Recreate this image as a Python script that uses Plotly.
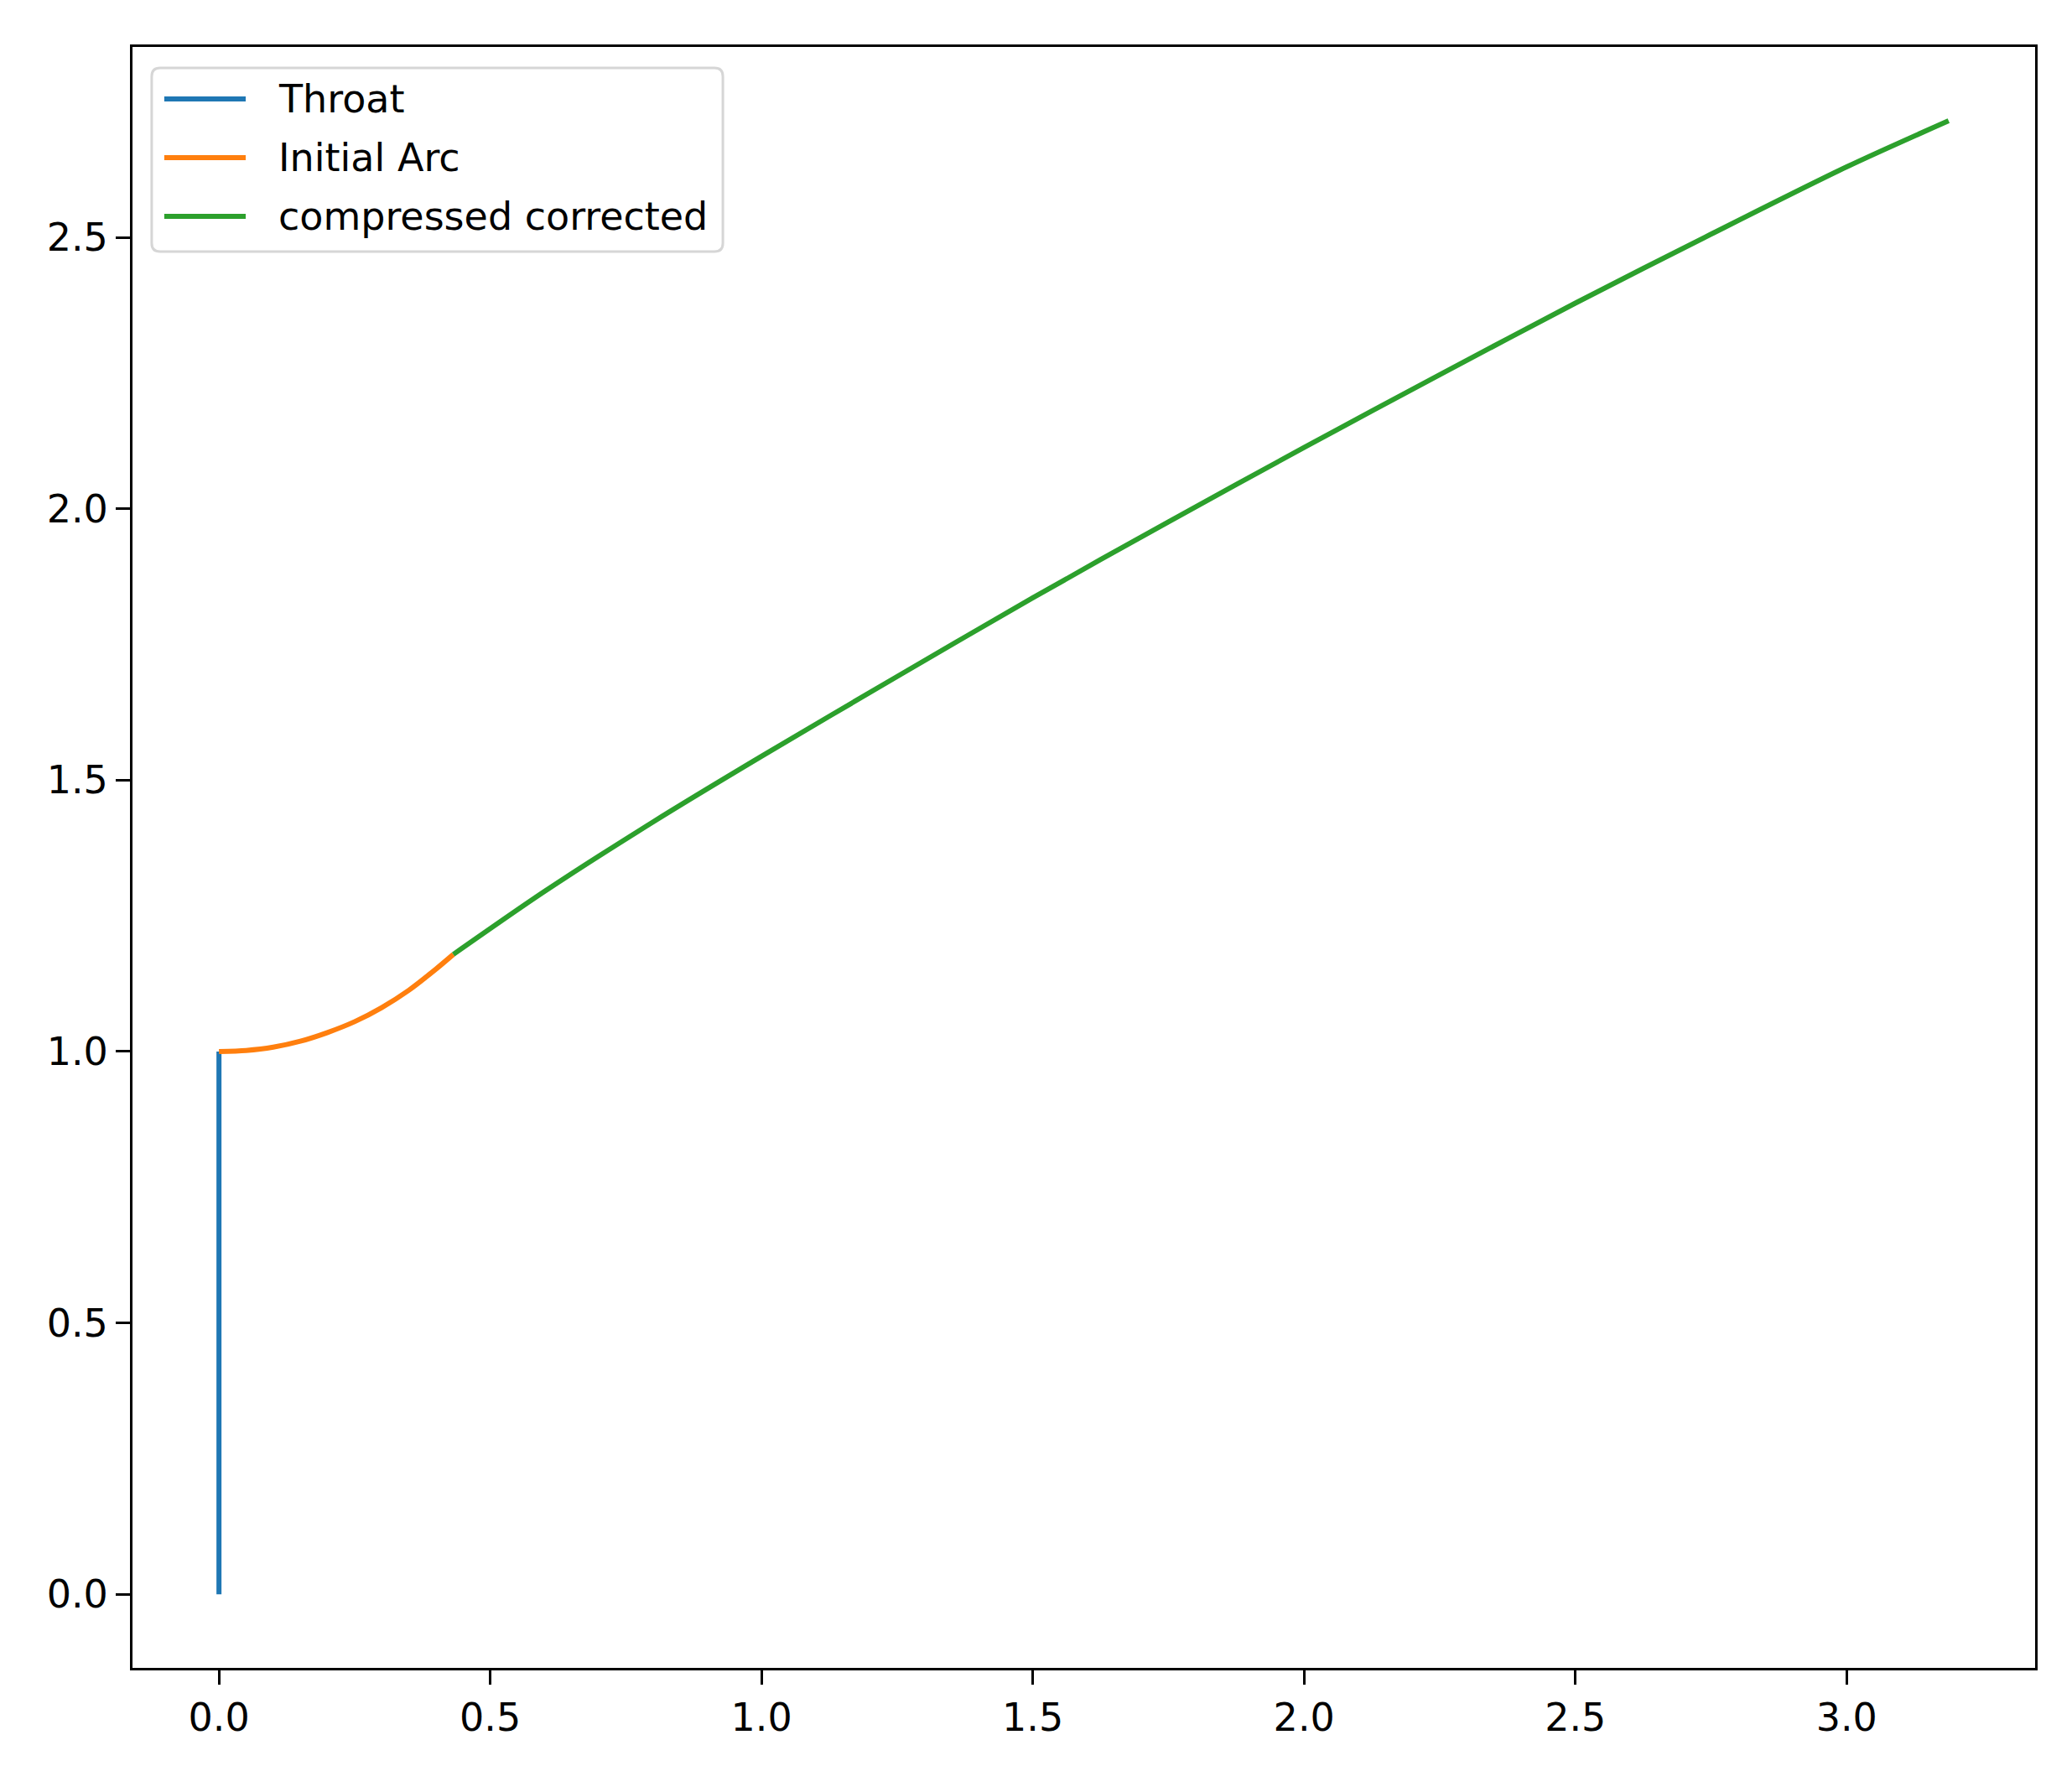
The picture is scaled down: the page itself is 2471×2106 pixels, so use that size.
import plotly.graph_objects as go

# Throat line
throat_x = [0.0, 0.0]
throat_y = [0.0, 1.0]

# Initial arc
arc_x = [0.0, 0.05, 0.10, 0.15, 0.20, 0.25, 0.30, 0.35, 0.40, 0.432]
arc_y = [1.000, 1.002, 1.008, 1.019, 1.035, 1.055, 1.081, 1.113, 1.152, 1.179]

# compressed corrected contour
comp_x = [0.432, 0.6, 0.8, 1.0, 1.25, 1.5, 1.75, 2.0, 2.25, 2.5, 2.75, 3.0, 3.188]
comp_y = [1.179, 1.295, 1.423, 1.544, 1.691, 1.836, 1.976, 2.113, 2.247, 2.379,
          2.506, 2.630, 2.715]

names = ['Throat', 'Initial Arc', 'compressed corrected']
colors = ['#1f77b4', '#ff7f0e', '#2ca02c']

x_ticks = [0.0, 0.5, 1.0, 1.5, 2.0, 2.5, 3.0]
y_ticks = [0.0, 0.5, 1.0, 1.5, 2.0, 2.5]

FONT = "DejaVu Sans"
FS = 46

fig = go.Figure()
series = [(throat_x, throat_y), (arc_x, arc_y), (comp_x, comp_y)]
for (xs, ys), nm, col in zip(series, names, colors):
    fig.add_trace(go.Scatter(x=xs, y=ys, mode='lines', name=nm, showlegend=False,
                             line=dict(color=col, width=6, shape='spline',
                                       smoothing=0.8)))

axis_style = dict(showline=True, linecolor='black', linewidth=3, mirror=True,
                  ticks='outside', ticklen=17, tickwidth=3, tickcolor='black',
                  showgrid=False, zeroline=False,
                  tickfont=dict(family=FONT, size=FS, color='black'))

fig.update_xaxes(range=[-0.1594, 3.3474], tickvals=x_ticks,
                 ticktext=[f'{v:.1f}' for v in x_ticks], **axis_style)
fig.update_yaxes(range=[-0.1357, 2.851], tickvals=y_ticks,
                 ticktext=[f'{v:.1f}' for v in y_ticks], **axis_style)

# legend box drawn like matplotlib's (rounded frame, long line samples)
x0, x1, y0, y1 = 0.0101, 0.3103, 0.8738, 0.9871
rx, ry = 0.0044, 0.0052
box = (f"M{x0 + rx},{y1} L{x1 - rx},{y1} Q{x1},{y1} {x1},{y1 - ry} "
       f"L{x1},{y0 + ry} Q{x1},{y0} {x1 - rx},{y0} "
       f"L{x0 + rx},{y0} Q{x0},{y0} {x0},{y0 + ry} "
       f"L{x0},{y1 - ry} Q{x0},{y1} {x0 + rx},{y1} Z")
fig.add_shape(type='path', path=box, xref='paper', yref='paper',
              fillcolor='rgba(255,255,255,0.8)', line=dict(color='#d6d6d6', width=3))
legend_rows = [0.9679, 0.9317, 0.8955]
for nm, col, yy in zip(names, colors, legend_rows):
    fig.add_shape(type='line', xref='paper', yref='paper',
                  x0=0.0167, x1=0.0595, y0=yy, y1=yy,
                  line=dict(color=col, width=6))
    fig.add_annotation(x=0.0758, y=yy, xref='paper', yref='paper', text=nm,
                       showarrow=False, xanchor='left', yanchor='middle',
                       font=dict(family=FONT, size=FS, color='black'))

fig.update_layout(
    width=2471, height=2106, autosize=False,
    margin=dict(l=150, r=52, t=48, b=125),
    paper_bgcolor='white', plot_bgcolor='white',
    font=dict(family=FONT, size=FS, color='black'),
    showlegend=False,
)

fig.write_html("out.html")
